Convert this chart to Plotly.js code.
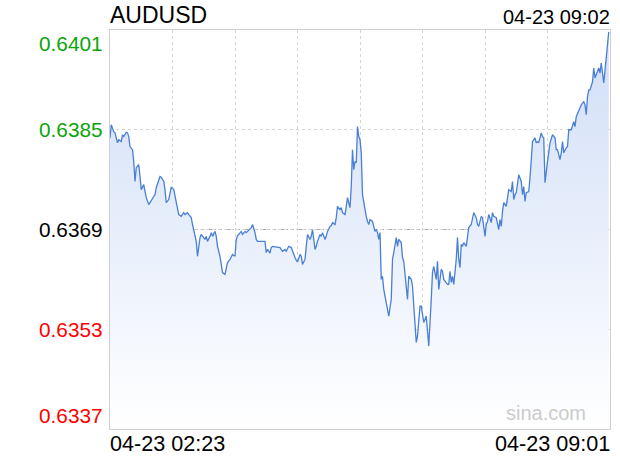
<!DOCTYPE html>
<html>
<head>
<meta charset="utf-8">
<script src="https://cdn.plot.ly/plotly-3.0.1.min.js"></script>
<style>
  html, body { margin: 0; padding: 0; background: #ffffff; }
  #chart { width: 620px; height: 460px; }
</style>
</head>
<body>
<div id="chart"></div>
<script>
// ---- data ----
const symbol = 'AUDUSD';
const headerTime = '04-23 09:02';
const axisTimeLabels = ['04-23 02:23', '04-23 09:01'];
const watermark = 'sina.com';
const prevClose = 0.6369;
const yTicks = [0.6401, 0.6385, 0.6369, 0.6353, 0.6337];
const totalMinutes = 400; // 02:23 .. 09:03

// minutes after 02:23
const minuteOffsets = [
  0,1,3,4,6,7,9,10,11,13,14,15,16,18,19,20,21,23,24,25,27,28,29,31,32,33,35,36,37,39,
  40,41,43,44,45,47,48,49,51,52,54,55,57,59,60,62,63,65,66,68,69,70,72,73,74,76,77,78,80,81,
  82,84,85,86,88,89,90,92,93,94,96,97,98,100,101,102,104,105,106,108,109,110,112,113,114,116,117,118,121,124,
  125,126,128,129,130,133,136,138,140,141,143,145,146,148,149,150,152,153,154,156,157,158,160,161,162,164,165,166,168,169,
  170,172,173,174,176,177,178,180,181,182,184,185,186,188,189,190,192,193,194,195,196,197,198,199,200,201,202,204,205,206,
  207,208,210,211,212,213,214,215,216,217,218,219,221,222,223,225,226,227,229,230,231,233,234,235,237,238,239,241,242,243,
  245,246,247,248,249,250,251,253,254,255,257,258,259,261,262,263,265,266,267,269,270,271,272,273,274,275,276,277,278,279,
  280,281,282,283,285,286,287,289,290,291,293,294,295,297,298,299,300,301,302,303,305,306,307,309,310,311,312,313,314,315,
  317,318,319,321,322,323,324,325,326,327,329,330,331,332,333,335,336,337,338,340,341,342,343,345,346,347,348,350,351,352,
  354,356,357,358,360,361,362,363,365,366,367,369,371,372,373,375,376,377,379,380,381,382,383,384,386,387,388,390,391,392,
  393,395,396,397,398,399
];

const prices = [
  0.63837,0.63858,0.63847,0.63845,0.63829,0.63834,0.63831,0.63842,0.63839,0.63846,0.63845,0.63839,0.63823,0.63818,0.63799,0.63767,0.63789,0.63794,0.63775,0.63754,0.63762,0.63749,0.63741,0.63730,0.63733,0.63735,0.63743,0.63746,0.63757,0.63767,
  0.63775,0.63774,0.63767,0.63754,0.63733,0.63738,0.63746,0.63758,0.63754,0.63743,0.63727,0.63714,0.63711,0.63717,0.63714,0.63717,0.63714,0.63709,0.63698,0.63682,0.63671,0.63647,0.63677,0.63682,0.63679,0.63674,0.63679,0.63671,0.63679,0.63685,
  0.63679,0.63687,0.63679,0.63663,0.63647,0.63631,0.63621,0.63618,0.63629,0.63637,0.63642,0.63645,0.63650,0.63647,0.63674,0.63680,0.63685,0.63687,0.63682,0.63687,0.63685,0.63687,0.63690,0.63693,0.63698,0.63685,0.63674,0.63671,0.63671,0.63671,
  0.63653,0.63658,0.63652,0.63661,0.63663,0.63662,0.63661,0.63655,0.63658,0.63655,0.63663,0.63661,0.63655,0.63645,0.63641,0.63638,0.63650,0.63647,0.63634,0.63642,0.63663,0.63682,0.63674,0.63679,0.63690,0.63658,0.63663,0.63671,0.63682,0.63679,
  0.63685,0.63674,0.63679,0.63687,0.63695,0.63696,0.63701,0.63698,0.63709,0.63727,0.63722,0.63725,0.63717,0.63714,0.63727,0.63741,0.63725,0.63759,0.63818,0.63786,0.63799,0.63797,0.63855,0.63839,0.63834,0.63813,0.63746,0.63717,0.63711,0.63703,
  0.63698,0.63706,0.63703,0.63695,0.63687,0.63690,0.63685,0.63674,0.63685,0.63610,0.63615,0.63594,0.63573,0.63559,0.63551,0.63578,0.63642,0.63653,0.63677,0.63663,0.63674,0.63669,0.63645,0.63639,0.63605,0.63578,0.63615,0.63610,0.63599,0.63567,
  0.63509,0.63519,0.63551,0.63567,0.63567,0.63549,0.63541,0.63551,0.63519,0.63503,0.63578,0.63621,0.63631,0.63610,0.63639,0.63594,0.63626,0.63623,0.63610,0.63605,0.63602,0.63602,0.63623,0.63605,0.63615,0.63602,0.63621,0.63642,0.63677,0.63642,
  0.63629,0.63666,0.63663,0.63669,0.63663,0.63682,0.63693,0.63698,0.63706,0.63717,0.63709,0.63698,0.63695,0.63711,0.63709,0.63695,0.63679,0.63698,0.63703,0.63714,0.63701,0.63717,0.63711,0.63709,0.63698,0.63690,0.63706,0.63695,0.63719,0.63733,
  0.63727,0.63741,0.63754,0.63751,0.63767,0.63738,0.63746,0.63749,0.63767,0.63778,0.63767,0.63746,0.63759,0.63735,0.63749,0.63751,0.63773,0.63805,0.63831,0.63837,0.63829,0.63831,0.63829,0.63845,0.63839,0.63837,0.63765,0.63799,0.63813,0.63829,
  0.63842,0.63837,0.63818,0.63818,0.63802,0.63813,0.63831,0.63813,0.63821,0.63823,0.63850,0.63850,0.63863,0.63855,0.63871,0.63882,0.63885,0.63890,0.63895,0.63890,0.63874,0.63903,0.63914,0.63914,0.63927,0.63949,0.63933,0.63943,0.63949,0.63941,
  0.63957,0.63925,0.63949,0.63967,0.63986,0.64007
];

// ---- styling ----
const FONT = 'Liberation Sans, Arial, Helvetica, sans-serif';
const GREEN = '#0aa50a';
const RED = '#ff0000';
const yMin = yTicks[yTicks.length - 1];
const yMax = yTicks[0];

const trace = {
  type: 'scatter',
  mode: 'lines',
  x: minuteOffsets,
  y: prices,
  line: { color: '#4a7fd6', width: 1.3 },
  fill: 'tozeroy',
  fillgradient: {
    type: 'vertical',
    start: yMin,
    stop: yMax,
    colorscale: [[0, '#ffffff'], [1, '#d0def7']]
  },
  hoverinfo: 'skip'
};

const annotations = [];
yTicks.forEach((v, i) => {
  let color = '#000000';
  if (v > prevClose) color = GREEN;
  else if (v < prevClose) color = RED;
  let yanchor = 'middle';
  if (i === 0) yanchor = 'top';
  if (i === yTicks.length - 1) yanchor = 'bottom';
  annotations.push({
    xref: 'paper', yref: 'y', x: 0, y: v,
    xanchor: 'right', yanchor: yanchor, xshift: -5,
    text: v.toFixed(4), showarrow: false,
    font: { family: FONT, size: 20.8, color: color }
  });
});
annotations.push({
  xref: 'paper', yref: 'paper', x: 0, y: 1, xanchor: 'left', yanchor: 'bottom',
  xshift: -2, text: symbol, showarrow: false,
  font: { family: FONT, size: 23, color: '#000000' }
});
annotations.push({
  xref: 'paper', yref: 'paper', x: 1, y: 1, xanchor: 'right', yanchor: 'bottom',
  xshift: 2, text: headerTime, showarrow: false,
  font: { family: FONT, size: 20, color: '#000000' }
});
annotations.push({
  xref: 'paper', yref: 'paper', x: 0, y: 0, xanchor: 'left', yanchor: 'top',
  xshift: -2, text: axisTimeLabels[0], showarrow: false,
  font: { family: FONT, size: 21.6, color: '#000000' }
});
annotations.push({
  xref: 'paper', yref: 'paper', x: 1, y: 0, xanchor: 'right', yanchor: 'top',
  xshift: 2, text: axisTimeLabels[1], showarrow: false,
  font: { family: FONT, size: 21.6, color: '#000000' }
});
annotations.push({
  xref: 'paper', yref: 'paper', x: 0.956, y: 0, xanchor: 'right', yanchor: 'bottom',
  yshift: 3, text: watermark, showarrow: false,
  font: { family: FONT, size: 20, color: '#cccccc' }
});

const layout = {
  width: 620,
  height: 460,
  margin: { l: 110, r: 10, t: 30, b: 31, pad: 0 },
  paper_bgcolor: '#ffffff',
  plot_bgcolor: '#ffffff',
  showlegend: false,
  hovermode: false,
  xaxis: {
    range: [0, totalMinutes],
    tick0: 0, dtick: 50,
    showgrid: true, gridcolor: '#d6d6d6', griddash: 'dot', gridwidth: 1,
    showticklabels: false, ticks: '',
    showline: true, linecolor: '#d0d0d0', linewidth: 1, mirror: true,
    zeroline: false, fixedrange: true
  },
  yaxis: {
    range: [yMin, yMax],
    tickvals: yTicks,
    showgrid: true, gridcolor: '#d6d6d6', griddash: 'dot', gridwidth: 1,
    showticklabels: false, ticks: '',
    showline: true, linecolor: '#d0d0d0', linewidth: 1, mirror: true,
    zeroline: false, fixedrange: true
  },
  shapes: [{
    type: 'line', xref: 'paper', yref: 'y',
    x0: 0, x1: 1, y0: prevClose, y1: prevClose,
    line: { color: '#aaaaaa', width: 1, dash: '4px,2px,1px,2px' },
    layer: 'below'
  }],
  annotations: annotations
};

Plotly.newPlot('chart', [trace], layout, { displayModeBar: false, staticPlot: true });
</script>
</body>
</html>
